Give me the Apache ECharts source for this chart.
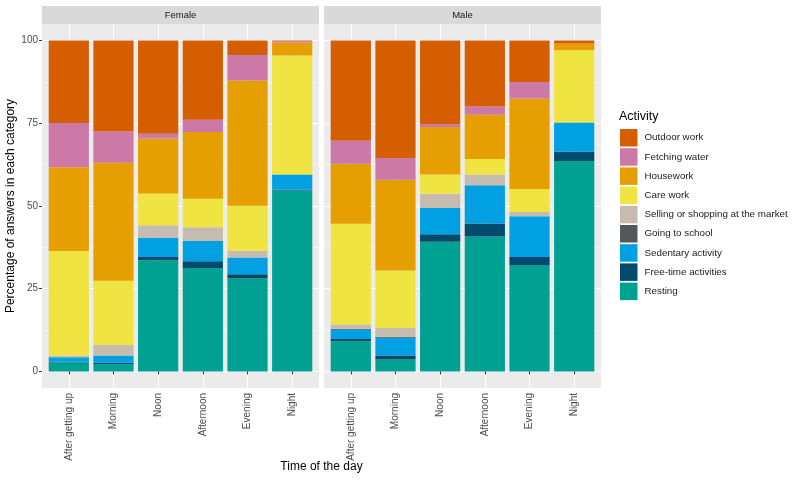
<!DOCTYPE html>
<html><head><meta charset="utf-8">
<script src="https://cdn.jsdelivr.net/npm/echarts@6/dist/echarts.min.js"></script>
<style>html,body{margin:0;padding:0;background:#fff}#c{width:800px;height:480px}</style>
</head><body><div id="c"></div><script>
// ---- data ----
const times = ['After getting up','Morning','Noon','Afternoon','Evening','Night'];
const panels = ['Female','Male'];
const activities = ['Resting','Free-time activities','Sedentary activity','Going to school','Selling or shopping at the market','Care work','Housework','Fetching water','Outdoor work'];
const legendOrder = ['Outdoor work','Fetching water','Housework','Care work','Selling or shopping at the market','Going to school','Sedentary activity','Free-time activities','Resting'];
const activityColors = ['#00A092','#004A6E','#00A0E2','#54575A','#C5BBAE','#F0E442','#E69F00','#CC79A7','#D55E00'];
const yTicks = [0,25,50,75,100];
const yMinor = [12.5,37.5,62.5,87.5];

// percentages per time of day (After getting up .. Night)
const femaleResting   = [2.8, 2.2, 33.6, 31.3, 28.1, 54.7];
const femaleFreeTime  = [0.1, 0.4, 1.0, 2.0, 1.3, 0.2];
const femaleSedentary = [1.4, 2.2, 5.8, 6.1, 5.0, 4.6];
const femaleSchool    = [0, 0, 0, 0, 0, 0];
const femaleSelling   = [0.5, 3.2, 3.8, 4.2, 2.1, 0];
const femaleCare      = [31.6, 19.4, 9.6, 8.6, 13.6, 36.0];
const femaleHouse     = [25.3, 35.7, 16.6, 20.2, 37.8, 3.9];
const femaleWater     = [13.4, 9.4, 1.4, 3.7, 7.7, 0.4];
const femaleOutdoor   = [24.9, 27.5, 28.2, 23.9, 4.4, 0.2];

const maleResting   = [9.1, 3.6, 39.2, 40.8, 32.2, 63.6];
const maleFreeTime  = [0.7, 1.2, 2.3, 3.9, 2.4, 2.8];
const maleSedentary = [2.8, 5.4, 7.9, 11.6, 12.3, 8.8];
const maleSchool    = [0.3, 0.3, 0, 0, 0, 0];
const maleSelling   = [1.3, 2.6, 4.3, 3.2, 1.3, 0];
const maleCare      = [30.4, 17.4, 5.8, 4.7, 6.9, 21.9];
const maleHouse     = [18.2, 27.4, 14.4, 13.4, 27.4, 2.0];
const maleWater     = [6.9, 6.6, 0.9, 2.5, 5.0, 0];
const maleOutdoor   = [30.3, 35.5, 25.2, 19.9, 12.5, 0.9];

const panelValues = [
  [femaleResting, femaleFreeTime, femaleSedentary, femaleSchool, femaleSelling, femaleCare, femaleHouse, femaleWater, femaleOutdoor],
  [maleResting, maleFreeTime, maleSedentary, maleSchool, maleSelling, maleCare, maleHouse, maleWater, maleOutdoor]
];

// ---- layout ----
const FONT = "'Liberation Sans', Arial, sans-serif";
const panelLeft = [42, 324];
const panelW = 277, panelTop = 24, panelH = 364, stripH = 18;
const unit = panelW / (times.length - 1 + 1.2); // ggplot discrete expansion 0.6 each side

const grids = [], xAxes = [], yAxes = [], series = [], graphics = [];
panels.forEach((p, pi) => {
  // panel grid (background, grid lines, ticks, labels)
  grids.push({left: panelLeft[pi], top: panelTop, width: panelW, height: panelH,
    show: true, backgroundColor: '#EBEBEB', borderWidth: 0, containLabel: false, outerBoundsMode: 'none'});
  // data grid (bars), same vertical extent, category bands matching ggplot spacing
  grids.push({left: panelLeft[pi] + 0.1 * unit, top: panelTop, width: unit * times.length, height: panelH,
    show: false, containLabel: false, outerBoundsMode: 'none'});
  const g = pi * 2;
  xAxes.push({type: 'value', gridIndex: g, min: 0.4, max: 6.6,
    axisLine: {show: false},
    axisTick: {show: true, length: 3, lineStyle: {color: '#333333', width: 1}, customValues: times.map((t, i) => i + 1)},
    axisLabel: {show: true, customValues: times.map((t, i) => i + 1), rotate: 90, margin: 5,
      fontFamily: FONT, fontSize: 10, color: '#4D4D4D', formatter: v => times[Math.round(v) - 1] || ''},
    splitLine: {show: true, lineStyle: {color: '#FFFFFF', width: 1}}
  });
  xAxes.push({type: 'category', gridIndex: g + 1, data: times, boundaryGap: true,
    axisLine: {show: false}, axisTick: {show: false}, axisLabel: {show: false}, splitLine: {show: false}});
  yAxes.push({type: 'value', gridIndex: g, min: -5, max: 105,
    axisLine: {show: false},
    axisTick: {show: pi === 0, length: 3, lineStyle: {color: '#333333'}, customValues: yTicks},
    axisLabel: {show: pi === 0, customValues: yTicks, margin: 4, fontFamily: FONT, fontSize: 10, color: '#4D4D4D'},
    splitLine: {show: true, lineStyle: {color: '#FFFFFF', width: 1}},
    name: pi === 0 ? 'Percentage of answers in each category' : '', nameLocation: 'middle', nameRotate: 90, nameGap: 25,
    nameTextStyle: {fontFamily: FONT, fontSize: 12, color: '#000'}
  });
  yAxes.push({type: 'value', gridIndex: g, min: -5, max: 105,
    axisLine: {show: false}, axisLabel: {show: false},
    axisTick: {show: false, customValues: yMinor},
    splitLine: {show: true, lineStyle: {color: '#FFFFFF', width: 0.5}}
  });
  yAxes.push({type: 'value', gridIndex: g + 1, min: -5, max: 105,
    axisLine: {show: false}, axisLabel: {show: false}, axisTick: {show: false}, splitLine: {show: false}});
  activities.forEach((a, ai) => {
    series.push({type: 'bar', name: a, xAxisIndex: g + 1, yAxisIndex: pi * 3 + 2, stack: 'p' + pi,
      barWidth: '90%', itemStyle: {color: activityColors[ai]}, z: 3,
      data: panelValues[pi][ai]});
  });
  graphics.push({type: 'rect', shape: {x: panelLeft[pi], y: panelTop - stripH, width: panelW, height: stripH},
    style: {fill: '#D9D9D9'}});
  graphics.push({type: 'text', x: panelLeft[pi] + panelW / 2, y: panelTop - stripH / 2,
    style: {text: p, fontFamily: FONT, fontSize: 9.5, fill: '#1A1A1A', align: 'center', verticalAlign: 'middle'}});
});
// shared x-axis title centred under both panels
graphics.push({type: 'text', x: (panelLeft[0] + panelLeft[1] + panelW) / 2, y: 467,
  style: {text: 'Time of the day', fontFamily: FONT, fontSize: 12, fill: '#000', align: 'center', verticalAlign: 'middle'}});

const chart = echarts.init(document.getElementById('c'), null, {renderer: 'canvas'});
chart.setOption({
  animation: false,
  backgroundColor: '#FFFFFF',
  title: {text: 'Activity', left: 619, top: 110, padding: 0, textStyle: {fontFamily: FONT, fontSize: 12.5, fontWeight: 'normal', color: '#000'}},
  legend: {orient: 'vertical', left: 620, top: 129, padding: 0, itemWidth: 17.5, itemHeight: 17.5, itemGap: 1.7,
    icon: 'rect', data: legendOrder, selectedMode: false,
    textStyle: {fontFamily: FONT, fontSize: 9.8, color: '#1A1A1A', padding: [0, 0, 0, 2]}},
  grid: grids, xAxis: xAxes, yAxis: yAxes, series: series,
  graphic: graphics
});
</script></body></html>
